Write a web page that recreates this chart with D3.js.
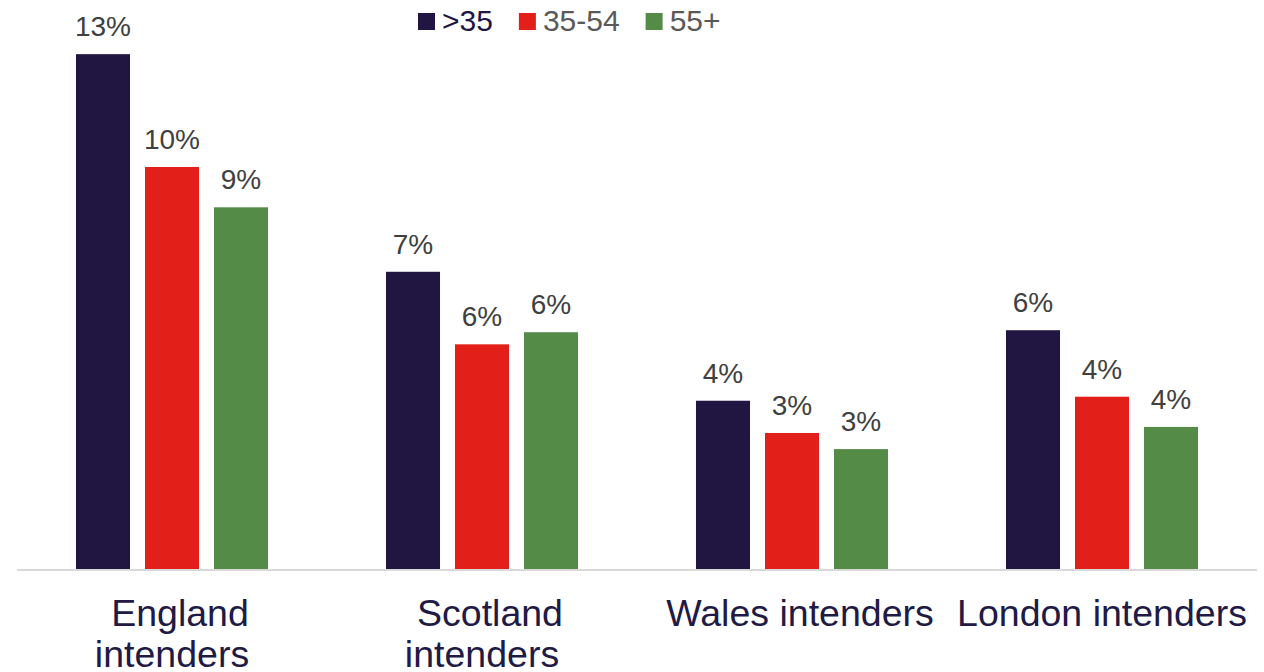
<!DOCTYPE html>
<meta charset="utf-8">
<script src="https://d3js.org/d3.v7.min.js"></script>
<style>
  body { margin: 0; background: #fff; }
  svg { display: block; font-family: Arial, "Liberation Sans", sans-serif; }
</style>
<svg id="chart" width="1264" height="672"></svg>
<script>
  // data (percent)
  const regions = ["England intenders", "Scotland intenders", "Wales intenders", "London intenders"]
  const regionLines = [["England", "intenders"], ["Scotland", "intenders"], ["Wales intenders"], ["London intenders"]]
  const ageGroups = [">35", "35-54", "55+"]
  const under35 = [12.8, 7.4, 4.2, 5.95]
  const age35to54 = [10.0, 5.6, 3.4, 4.3]
  const age55plus = [9.0, 5.9, 3.0, 3.55]
  const seriesValues = [under35, age35to54, age55plus]

  const colors = ["#201641", "#e31f1a", "#548b47"]
  const legendText = ["#201641", "#595959", "#595959"]

  const svg = d3.select("#chart")
  const baseline = 570

  const x = d3.scaleBand().domain(regions).range([17, 1257])
  const bw = x.bandwidth()
  const xSub = d3.scaleBand().domain(ageGroups)
    .range([bw / 2 - 103.5, bw / 2 + 103.5])
    .paddingInner(0.217).paddingOuter(0.1085)
  const y = d3.scaleLinear().domain([0, 14]).range([baseline, baseline - 14 * 40.3])

  const rows = []
  regions.forEach((r, i) => {
    ageGroups.forEach((a, j) => {
      rows.push({ region: r, group: a, gi: j, value: seriesValues[j][i] })
    })
  })

  // bars
  svg.append("g").selectAll("rect")
    .data(rows).enter()
    .append("rect")
    .attr("x", d => x(d.region) + xSub(d.group))
    .attr("y", d => y(d.value))
    .attr("width", xSub.bandwidth())
    .attr("height", d => baseline - y(d.value))
    .attr("fill", d => colors[d.gi])

  // value labels
  svg.append("g").selectAll("text")
    .data(rows).enter()
    .append("text")
    .attr("x", d => x(d.region) + xSub(d.group) + xSub.bandwidth() / 2)
    .attr("y", d => y(d.value) - 18)
    .attr("text-anchor", "middle")
    .style("font-size", "28px")
    .attr("fill", "#404040")
    .text(d => Math.round(d.value) + "%")

  // baseline
  svg.append("line")
    .attr("x1", x.range()[0]).attr("x2", x.range()[1])
    .attr("y1", baseline).attr("y2", baseline)
    .attr("stroke", "#d9d9d9").attr("stroke-width", 2)

  // category labels
  const cat = svg.append("g").selectAll("text")
    .data(regions).enter()
    .append("text")
    .attr("text-anchor", "middle")
    .style("font-size", "37.5px")
    .attr("fill", "#201a45")
  cat.each(function (d, i) {
    const lines = regionLines[i]
    d3.select(this).selectAll("tspan")
      .data(lines).enter()
      .append("tspan")
      .attr("x", x(d) + bw / 2)
      .attr("dx", (l, k) => (lines.length > 1 && k === 0) || i === 2 ? 8 : 0)
      .attr("y", (l, k) => 626 + k * 41)
      .text(l => l)
  })

  // legend
  const legend = svg.append("g")
  let lx = 418
  ageGroups.forEach((a, i) => {
    legend.append("rect")
      .attr("x", lx).attr("y", 13)
      .attr("width", 17).attr("height", 17)
      .attr("fill", colors[i])
    const t = legend.append("text")
      .attr("x", lx + 24).attr("y", 31)
      .style("font-size", "30px")
      .attr("fill", legendText[i])
      .text(a)
    lx += 24 + t.node().getComputedTextLength() + 26
  })
</script>
